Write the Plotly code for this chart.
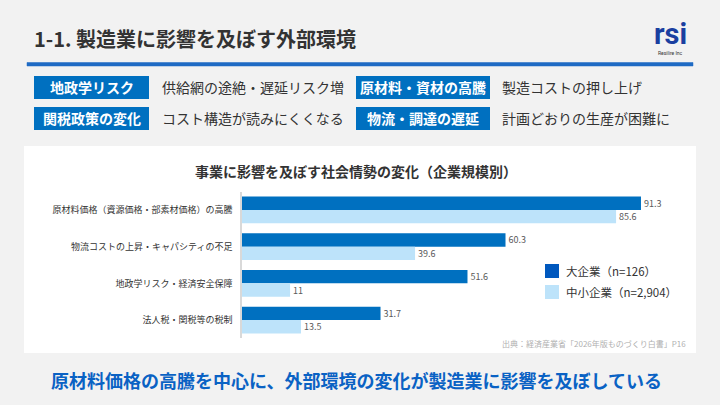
import plotly.graph_objects as go

W, H = 720, 405

categories = [
    "原材料価格（資源価格・部素材価格）の高騰",
    "物流コストの上昇・キャパシティの不足",
    "地政学リスク・経済安全保障",
    "法人税・関税等の税制",
]
large_vals = [91.3, 60.3, 51.6, 31.7]
small_vals = [85.6, 39.6, 11, 13.5]
series_names = ["大企業（n=126）", "中小企業（n=2,904）"]

title_text = "1-1. 製造業に影響を及ぼす外部環境"
chart_title = "事業に影響を及ぼす社会情勢の変化（企業規模別）"
box_labels = ["地政学リスク", "原材料・資材の高騰", "関税政策の変化", "物流・調達の遅延"]
box_texts = ["供給網の途絶・遅延リスク増", "製造コストの押し上げ",
             "コスト構造が読みにくくなる", "計画どおりの生産が困難に"]
source_text = "出典：経済産業省「2026年版ものづくり白書」P16"
conclusion = "原材料価格の高騰を中心に、外部環境の変化が製造業に影響を及ぼしている"

FONT = "Noto Sans CJK JP"
DARK = "#0070C0"
LIGHT = "#BDE3FA"
LEGEND_DARK = "#0058BE"
RULE = "#1F6BC4"


def px(x):
    return x / W


def py(y):
    return 1 - y / H


fig = go.Figure()
fig.add_trace(go.Bar(
    y=categories, x=large_vals, orientation="h", name=series_names[0],
    marker=dict(color=DARK, line=dict(width=0)),
    text=[f"{v:g}" for v in large_vals], textposition="outside",
    textfont=dict(size=9, color="#595959", family=FONT), cliponaxis=False,
))
fig.add_trace(go.Bar(
    y=categories, x=small_vals, orientation="h", name=series_names[1],
    marker=dict(color=LIGHT, line=dict(width=0)),
    text=[f"{v:g}" for v in small_vals], textposition="outside",
    textfont=dict(size=9, color="#595959", family=FONT), cliponaxis=False,
))

shapes = []
annotations = []

# white panel
shapes.append(dict(type="rect", xref="paper", yref="paper", layer="below",
                   x0=px(24), x1=px(696), y0=py(353), y1=py(146),
                   fillcolor="white", line=dict(width=0)))

# label boxes
box_pos = [(34, 149, 76, 99, 160), (356, 490, 76, 99, 500),
           (34, 149, 107, 130, 160), (356, 490, 107, 130, 500)]
for (x0, x1, y0, y1, tx), lab, txt in zip(box_pos, box_labels, box_texts):
    shapes.append(dict(type="rect", xref="paper", yref="paper",
                       x0=px(x0), x1=px(x1), y0=py(y1), y1=py(y0),
                       fillcolor=DARK, line=dict(width=0)))
    annotations.append(dict(text=f"<b>{lab}</b>", xref="paper", yref="paper",
                            x=px((x0 + x1) / 2), y=py((y0 + y1) / 2),
                            xanchor="center", yanchor="middle", showarrow=False,
                            font=dict(size=14, color="white", family=FONT)))
    annotations.append(dict(text=txt, xref="paper", yref="paper",
                            x=px(tx), y=py((y0 + y1) / 2),
                            xanchor="left", yanchor="middle", showarrow=False,
                            font=dict(size=14, color="#333333", family=FONT)))

# blue rule under title
shapes.append(dict(type="rect", xref="paper", yref="paper",
                   x0=px(27), x1=px(693), y0=py(66), y1=py(62.5),
                   fillcolor=RULE, line=dict(color=RULE, width=0.5)))

# title
annotations.append(dict(text=f"<b>{title_text}</b>", xref="paper", yref="paper",
                        x=px(32), y=py(38), xanchor="left", yanchor="middle",
                        showarrow=False, font=dict(size=20, color="#333333", family=FONT)))

# logo
annotations.append(dict(text="<b>rsi</b>", xref="paper", yref="paper",
                        x=px(670), y=py(34), xanchor="center", yanchor="middle",
                        showarrow=False, font=dict(size=29, color="#1A3FA0", family="Roboto")))
annotations.append(dict(text="Resilire Inc", xref="paper", yref="paper",
                        x=px(670), y=py(53), xanchor="center", yanchor="middle",
                        showarrow=False, font=dict(size=5, color="#333333", family="Roboto")))

# legend (drawn manually)
for (y0, y1), col, name in zip([(264, 278), (285, 299)], [LEGEND_DARK, LIGHT], series_names):
    shapes.append(dict(type="rect", xref="paper", yref="paper",
                       x0=px(545), x1=px(559), y0=py(y1), y1=py(y0),
                       fillcolor=col, line=dict(width=0)))
    annotations.append(dict(text=name, xref="paper", yref="paper",
                            x=px(564), y=py((y0 + y1) / 2), xanchor="left", yanchor="middle",
                            showarrow=False, font=dict(size=11.5, color="#333333", family=FONT)))

# chart title
annotations.append(dict(text=f"<b>{chart_title}</b>", xref="paper", yref="paper",
                        x=px(356), y=py(171), xanchor="center", yanchor="middle",
                        showarrow=False, font=dict(size=14, color="#333333", family=FONT)))
# source
annotations.append(dict(text=source_text, xref="paper", yref="paper",
                        x=px(688), y=py(343), xanchor="right", yanchor="middle",
                        showarrow=False, font=dict(size=8, color="#B0B0B0", family=FONT)))
# conclusion
annotations.append(dict(text=f"<b>{conclusion}</b>", xref="paper", yref="paper",
                        x=px(356), y=py(380), xanchor="center", yanchor="middle",
                        showarrow=False, font=dict(size=18, color="#0A62C4", family=FONT)))

fig.update_layout(
    width=W, height=H,
    margin=dict(l=0, r=0, t=0, b=0),
    paper_bgcolor="#F2F2F2", plot_bgcolor="rgba(0,0,0,0)",
    barmode="group", bargap=0.27, bargroupgap=0,
    font=dict(family=FONT, color="#333333"),
    shapes=shapes, annotations=annotations,
    showlegend=False,
    xaxis=dict(domain=[px(242), px(679)], range=[0, 100], visible=False,
               showgrid=False, zeroline=False),
    yaxis=dict(domain=[py(338.4), py(191.6)], autorange="reversed",
               showline=True, linecolor="#D9D9D9", linewidth=1.5,
               ticks="", ticklabelstandoff=6, showgrid=False,
               tickfont=dict(size=9, color="#333333", family=FONT)),
)

fig.write_html("out.html", config={"displayModeBar": False},
               post_script="document.body.style.margin='0';document.body.style.background='#F2F2F2';")
